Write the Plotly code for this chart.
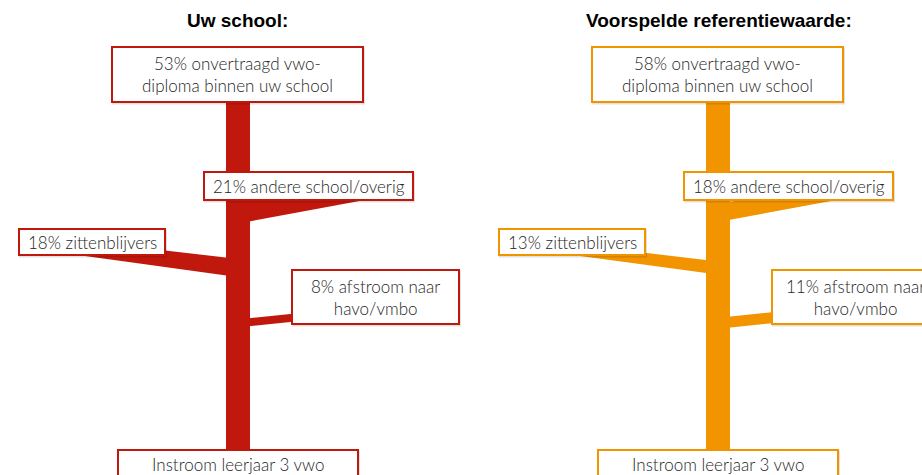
import plotly.graph_objects as go

# ---- data ----
panel_titles = ["Uw school:", "Voorspelde referentiewaarde:"]
pct_diploma = [53, 58]
pct_andere = [21, 18]
pct_zitten = [18, 13]
pct_afstroom = [8, 11]
panel_colors = ["#C0180C", "#F29400"]

label_diploma = "{}% onvertraagd vwo-<br>diploma binnen uw school"
label_andere = "{}% andere school/overig"
label_zitten = "{}% zittenblijvers"
label_afstroom = "{}% afstroom naar<br>havo/vmbo"
label_instroom = "Instroom leerjaar 3 vwo"

# ---- layout constants (pixel space) ----
W, H = 922, 475
PANEL_OFFSET = [0, 480]
PX_PER_PCT = 1.0
TRUNK_L, TRUNK_R = 226, 250
TRUNK_TOP, TRUNK_BOT = 102, 450
TEXT_COLOR = "#262626"
FONT = "Lato Light, Lato"

# branch geometry: (trunk side x, center y at trunk, end x, slope toward end, end taper)
BRANCHES = {
    "andere": (TRUNK_R, 211.5, 400, -0.19, 1.0),
    "zitten": (TRUNK_L, 267.0, 70, 0.13, 0.8),
    "afstroom": (TRUNK_R, 322.5, 375, -0.107, 1.0),
}

# boxes (x0, y0, x1, y1)
BOXES = {
    "diploma": (112, 47, 363, 102),
    "andere": (204, 172, 413, 200),
    "zitten": (19, 229, 165, 255),
    "afstroom": (292, 270, 459, 324),
    "instroom": (118, 450, 358, 500),
}

fig = go.Figure()
shapes = []
annotations = []

for p in range(2):
    off = PANEL_OFFSET[p]
    col = panel_colors[p]
    # trunk
    fig.add_trace(go.Scatter(
        x=[TRUNK_L + off, TRUNK_R + off, TRUNK_R + off, TRUNK_L + off, TRUNK_L + off],
        y=[TRUNK_TOP, TRUNK_TOP, TRUNK_BOT, TRUNK_BOT, TRUNK_TOP],
        fill="toself", fillcolor=col, mode="none", hoverinfo="skip", showlegend=False))
    vals = {"andere": pct_andere[p], "zitten": pct_zitten[p], "afstroom": pct_afstroom[p]}
    for key, (xs, yc, xe, slope, taper) in BRANCHES.items():
        t = vals[key] * PX_PER_PCT
        te = t * taper
        dx = xe - xs
        ye = yc + slope * abs(dx) if slope < 0 else yc - slope * abs(dx)
        xs_in = xs + (-4 if dx > 0 else 4)  # tuck into trunk
        fig.add_trace(go.Scatter(
            x=[xs_in + off, xe + off, xe + off, xs_in + off, xs_in + off],
            y=[yc - t / 2, ye - te / 2, ye + te / 2, yc + t / 2, yc - t / 2],
            fill="toself", fillcolor=col, mode="none", hoverinfo="skip", showlegend=False))

    texts = {
        "diploma": label_diploma.format(pct_diploma[p]),
        "andere": label_andere.format(pct_andere[p]),
        "zitten": label_zitten.format(pct_zitten[p]),
        "afstroom": label_afstroom.format(pct_afstroom[p]),
        "instroom": label_instroom,
    }
    for key, (x0, y0, x1, y1) in BOXES.items():
        shapes.append(dict(type="rect", xref="x", yref="y", layer="above",
                           x0=x0 + off + 1, x1=x1 + off + 1, y0=y0 + 1.5, y1=y1 + 1.5,
                           line=dict(color="rgba(0,0,0,0.12)", width=2), fillcolor="rgba(0,0,0,0)"))
        shapes.append(dict(type="rect", xref="x", yref="y", layer="above",
                           x0=x0 + off, x1=x1 + off, y0=y0, y1=y1,
                           line=dict(color=col, width=2), fillcolor="white"))
        cy = (y0 + y1) / 2 if key != "instroom" else 464
        annotations.append(dict(x=(x0 + x1) / 2 + off, y=cy, xref="x", yref="y",
                                text=texts[key], showarrow=False,
                                font=dict(family=FONT, size=17, color=TEXT_COLOR),
                                xanchor="center", yanchor="middle", align="center"))
    annotations.append(dict(x=237.5 + off + (1 if p else 0), y=20, xref="x", yref="y",
                            text="<b>" + panel_titles[p] + "</b>", showarrow=False,
                            font=dict(family="Liberation Sans, Arial", size=19, color="#000"),
                            xanchor="center", yanchor="middle"))

fig.update_layout(
    width=W, height=H,
    margin=dict(l=0, r=0, t=0, b=0),
    paper_bgcolor="white", plot_bgcolor="white",
    xaxis=dict(range=[0, W], visible=False, fixedrange=True),
    yaxis=dict(range=[H, 0], visible=False, fixedrange=True),
    shapes=shapes, annotations=annotations,
)

fig.write_html("out.html", config={"displayModeBar": False},
               post_script="document.body.style.margin='0px';document.body.style.overflow='hidden';")
